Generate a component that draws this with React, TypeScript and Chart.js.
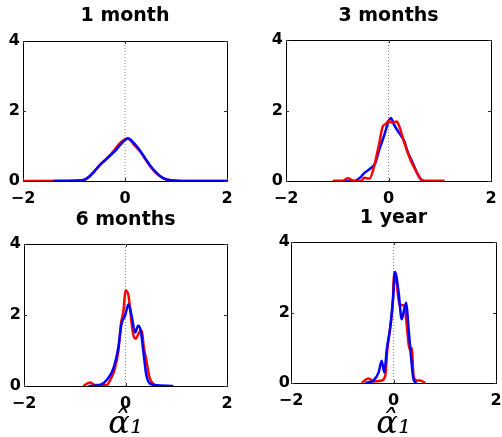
import React, { useEffect, useRef } from 'react';
import { Chart, registerables } from 'chart.js';

Chart.register(...registerables);

// ---- data ----
const xTicks = [-2, 0, 2];
const yTicks = [0, 2, 4];
const panelTitles = ['1 month', '3 months', '6 months', '1 year'];
const xAxisLabel = 'α̂₁';

const m1RedX = [-2.0, -1.0, -0.8, -0.7, -0.6, -0.5, -0.4, -0.3, -0.2, -0.1, 0.0, 0.05, 0.1, 0.2, 0.3, 0.4, 0.5, 0.6, 0.7, 0.8, 0.9, 1.0, 1.2, 2.0];
const m1RedY = [0, 0.01, 0.03, 0.12, 0.27, 0.44, 0.59, 0.73, 0.9, 1.08, 1.19, 1.21, 1.17, 1.0, 0.84, 0.62, 0.41, 0.24, 0.12, 0.05, 0.02, 0.01, 0, 0];
const m1BlueX = [-1.4, -1.0, -0.8, -0.7, -0.6, -0.5, -0.4, -0.3, -0.2, -0.1, 0.0, 0.05, 0.1, 0.2, 0.3, 0.4, 0.5, 0.6, 0.7, 0.8, 0.9, 1.0, 1.2, 2.0];
const m1BlueY = [0, 0.01, 0.04, 0.13, 0.28, 0.45, 0.58, 0.71, 0.85, 1.02, 1.17, 1.22, 1.19, 1.04, 0.86, 0.64, 0.43, 0.26, 0.13, 0.05, 0.02, 0.01, 0, 0];

const m3RedX = [-1.09, -0.9, -0.8, -0.67, -0.54, -0.47, -0.37, -0.28, -0.18, -0.11, -0.05, 0.0, 0.05, 0.1, 0.16, 0.21, 0.31, 0.44, 0.54, 0.63, 0.7, 1.09];
const m3RedY = [0, 0, 0.075, 0, 0, 0.09, 0.07, 0.42, 1.08, 1.55, 1.62, 1.71, 1.66, 1.66, 1.69, 1.55, 1.08, 0.56, 0.28, 0.05, 0, 0];
const m3BlueX = [-1.06, -0.67, -0.55, -0.47, -0.34, -0.26, -0.18, -0.08, 0.0, 0.05, 0.11, 0.21, 0.31, 0.37, 0.47, 0.57, 0.63, 0.7, 1.09];
const m3BlueY = [0, 0, 0.1, 0.23, 0.37, 0.5, 0.89, 1.31, 1.69, 1.78, 1.59, 1.36, 1.12, 0.84, 0.52, 0.19, 0.05, 0, 0];

const m6RedX = [-0.83, -0.7, -0.6, -0.37, -0.3, -0.21, -0.14, -0.09, -0.04, 0.0, 0.06, 0.1, 0.15, 0.2, 0.27, 0.32, 0.36, 0.41, 0.47, 0.54, 0.61];
const m6RedY = [0, 0.1, 0.03, 0.03, 0.17, 0.49, 1.0, 1.74, 2.12, 2.7, 2.54, 2.03, 1.47, 1.33, 1.51, 1.56, 1.1, 0.73, 0.26, 0.07, 0];
const m6BlueX = [-0.73, -0.5, -0.37, -0.24, -0.14, -0.08, -0.01, 0.06, 0.12, 0.19, 0.25, 0.3, 0.35, 0.41, 0.48, 0.58, 0.94];
const m6BlueY = [0, 0.03, 0.17, 0.49, 1.1, 1.74, 1.98, 2.3, 1.98, 1.51, 1.7, 1.56, 1.0, 0.31, 0.07, 0.03, 0];

const y1RedX = [-0.62, -0.49, -0.39, -0.23, -0.16, -0.12, -0.06, -0.01, 0.01, 0.06, 0.12, 0.16, 0.21, 0.26, 0.31, 0.36, 0.39, 0.45, 0.52, 0.62];
const y1RedY = [0, 0.13, 0.04, 0.07, 0.21, 0.96, 1.62, 2.38, 3.13, 2.85, 2.19, 2.21, 2.19, 1.62, 0.96, 1.0, 0.21, 0.07, 0.07, 0];
const y1BlueX = [-0.55, -0.39, -0.29, -0.23, -0.18, -0.13, -0.06, -0.01, 0.03, 0.1, 0.16, 0.21, 0.25, 0.29, 0.34, 0.39, 0.45];
const y1BlueY = [0, 0.07, 0.3, 0.63, 0.3, 0.96, 1.62, 2.38, 3.15, 2.57, 1.81, 2.09, 2.28, 1.62, 0.77, 0.11, 0];

const zeroLineX = [0, 0];
const zeroLineY = [0, 4];

// ---- layout / style ----
const RED = '#ff0000';
const BLUE = '#0000ff';
const SANS = "'DejaVu Sans', 'Liberation Sans', Arial, sans-serif";

type PanelCfg = {
  title: string;
  redX: number[]; redY: number[]; blueX: number[]; blueY: number[];
  redOnTop: boolean;
  left: number; top: number; width: number; height: number;
  padR: number; yw: number; ht: number; hx: number; titlePad: number; yPad: number;
  xLabel: boolean;
};

const panels: PanelCfg[] = [
  { title: panelTitles[0], redX: m1RedX, redY: m1RedY, blueX: m1BlueX, blueY: m1BlueY, redOnTop: false,
    left: 0, top: 0, width: 250, height: 215, padR: 23, yw: 23, ht: 41, hx: 34, titlePad: 5, yPad: 3, xLabel: false },
  { title: panelTitles[1], redX: m3RedX, redY: m3RedY, blueX: m3BlueX, blueY: m3BlueY, redOnTop: true,
    left: 251, top: 0, width: 270, height: 215, padR: 30, yw: 35, ht: 40, hx: 34, titlePad: 5, yPad: 3, xLabel: false },
  { title: panelTitles[2], redX: m6RedX, redY: m6RedY, blueX: m6BlueX, blueY: m6BlueY, redOnTop: false,
    left: 0, top: 200, width: 250, height: 237, padR: 23, yw: 24, ht: 44, hx: 51, titlePad: 9, yPad: 3, xLabel: true },
  { title: panelTitles[3], redX: y1RedX, redY: y1RedY, blueX: y1BlueX, blueY: y1BlueY, redOnTop: false,
    left: 251, top: 200, width: 270, height: 237, padR: 25, yw: 40, ht: 42, hx: 54, titlePad: 7, yPad: 1, xLabel: true },
];

const pts = (xs: number[], ys: number[]) => xs.map((x, i) => ({ x, y: ys[i] }));
const fmt = (v: any) => (Number(v) < 0 ? '\u2212' + Math.abs(Number(v)) : String(v));

const innerTicks = {
  id: 'innerTicks',
  afterDatasetsDraw(chart: any) {
    const { ctx, chartArea: a, scales } = chart;
    const x = scales.x;
    const y = scales.y;
    ctx.save();
    ctx.strokeStyle = '#333';
    ctx.lineWidth = 1;
    ctx.beginPath();
    for (const v of xTicks) {
      const px = Math.round(x.getPixelForValue(v)) + 0.5;
      ctx.moveTo(px, a.bottom); ctx.lineTo(px, a.bottom - 3);
      ctx.moveTo(px, a.top); ctx.lineTo(px, a.top + 3);
    }
    for (const v of yTicks) {
      const py = Math.round(y.getPixelForValue(v)) + 0.5;
      ctx.moveTo(a.left, py); ctx.lineTo(a.left + 3, py);
      ctx.moveTo(a.right, py); ctx.lineTo(a.right - 3, py);
    }
    ctx.stroke();
    ctx.restore();
  },
};

function Panel({ cfg }: { cfg: PanelCfg }) {
  const ref = useRef<HTMLCanvasElement | null>(null);
  useEffect(() => {
    if (!ref.current) return;
    const red = {
      data: pts(cfg.redX, cfg.redY), borderColor: RED, borderWidth: 2.5, pointRadius: 0,
      cubicInterpolationMode: 'monotone', fill: false, xAxisID: 'x', yAxisID: 'y',
    };
    const blue = {
      data: pts(cfg.blueX, cfg.blueY), borderColor: BLUE, borderWidth: 2.5, pointRadius: 0,
      cubicInterpolationMode: 'monotone', fill: false, xAxisID: 'x', yAxisID: 'y',
    };
    const zero = {
      data: pts(zeroLineX, zeroLineY), borderColor: '#8a8a8a', borderWidth: 1, borderDash: [1, 2],
      pointRadius: 0, fill: false, xAxisID: 'x', yAxisID: 'y',
    };
    const datasets = cfg.redOnTop ? [red, blue, zero] : [blue, red, zero];
    const tickFont = { family: SANS, size: 16, weight: 'bold' as const };
    const noGrid = { display: false, drawTicks: false };
    const border = { display: true, color: '#000', width: 1 };
    const chart = new Chart(ref.current, {
      type: 'line',
      data: { datasets: datasets as any },
      options: {
        animation: false,
        responsive: false,
        events: [],
        layout: { padding: { left: 0, right: cfg.padR, top: 0, bottom: 0 } },
        plugins: { legend: { display: false }, title: { display: false }, tooltip: { enabled: false } },
        scales: {
          x: {
            type: 'linear', position: 'bottom', min: -2, max: 2,
            afterBuildTicks: (s: any) => { s.ticks = xTicks.map((v) => ({ value: v })); },
            afterFit: (s: any) => { s.height = cfg.hx; },
            grid: noGrid, border,
            ticks: { font: tickFont, color: '#000', padding: 8, maxRotation: 0, autoSkip: false, callback: fmt },
            title: {
              display: cfg.xLabel, text: xAxisLabel, color: '#000',
              font: { family: "'DejaVu Serif', 'Liberation Serif', serif", style: 'italic', size: 32, lineHeight: '20px' },
              padding: { top: 0, bottom: 2 },
            },
          },
          x2: {
            type: 'linear', position: 'top', min: -2, max: 2,
            afterFit: (s: any) => { s.height = cfg.ht; },
            grid: noGrid, border, ticks: { display: false },
            title: {
              display: true, text: cfg.title, color: '#000',
              font: { family: SANS, size: 19, weight: 'bold', lineHeight: 1.2 },
              padding: { top: cfg.titlePad, bottom: 0 },
            },
          },
          y: {
            type: 'linear', position: 'left', min: 0, max: 4,
            afterBuildTicks: (s: any) => { s.ticks = yTicks.map((v) => ({ value: v })); },
            afterFit: (s: any) => { s.width = cfg.yw; },
            grid: noGrid, border,
            ticks: { font: tickFont, color: '#000', padding: cfg.yPad, autoSkip: false },
          },
          y2: {
            type: 'linear', position: 'right', min: 0, max: 4,
            afterFit: (s: any) => { s.width = 0; },
            grid: noGrid, border, ticks: { display: false },
          },
        },
      } as any,
      plugins: [innerTicks],
    });
    return () => chart.destroy();
  }, [cfg]);
  return (
    <canvas
      ref={ref}
      width={cfg.width}
      height={cfg.height}
      style={{ position: 'absolute', left: cfg.left, top: cfg.top, width: cfg.width, height: cfg.height }}
    />
  );
}

export default function App() {
  return (
    <div style={{ position: 'fixed', left: 0, top: 0, width: 502, height: 437, overflow: 'hidden', background: '#fff' }}>
      {panels.map((p, i) => (
        <Panel key={i} cfg={p} />
      ))}
    </div>
  );
}
